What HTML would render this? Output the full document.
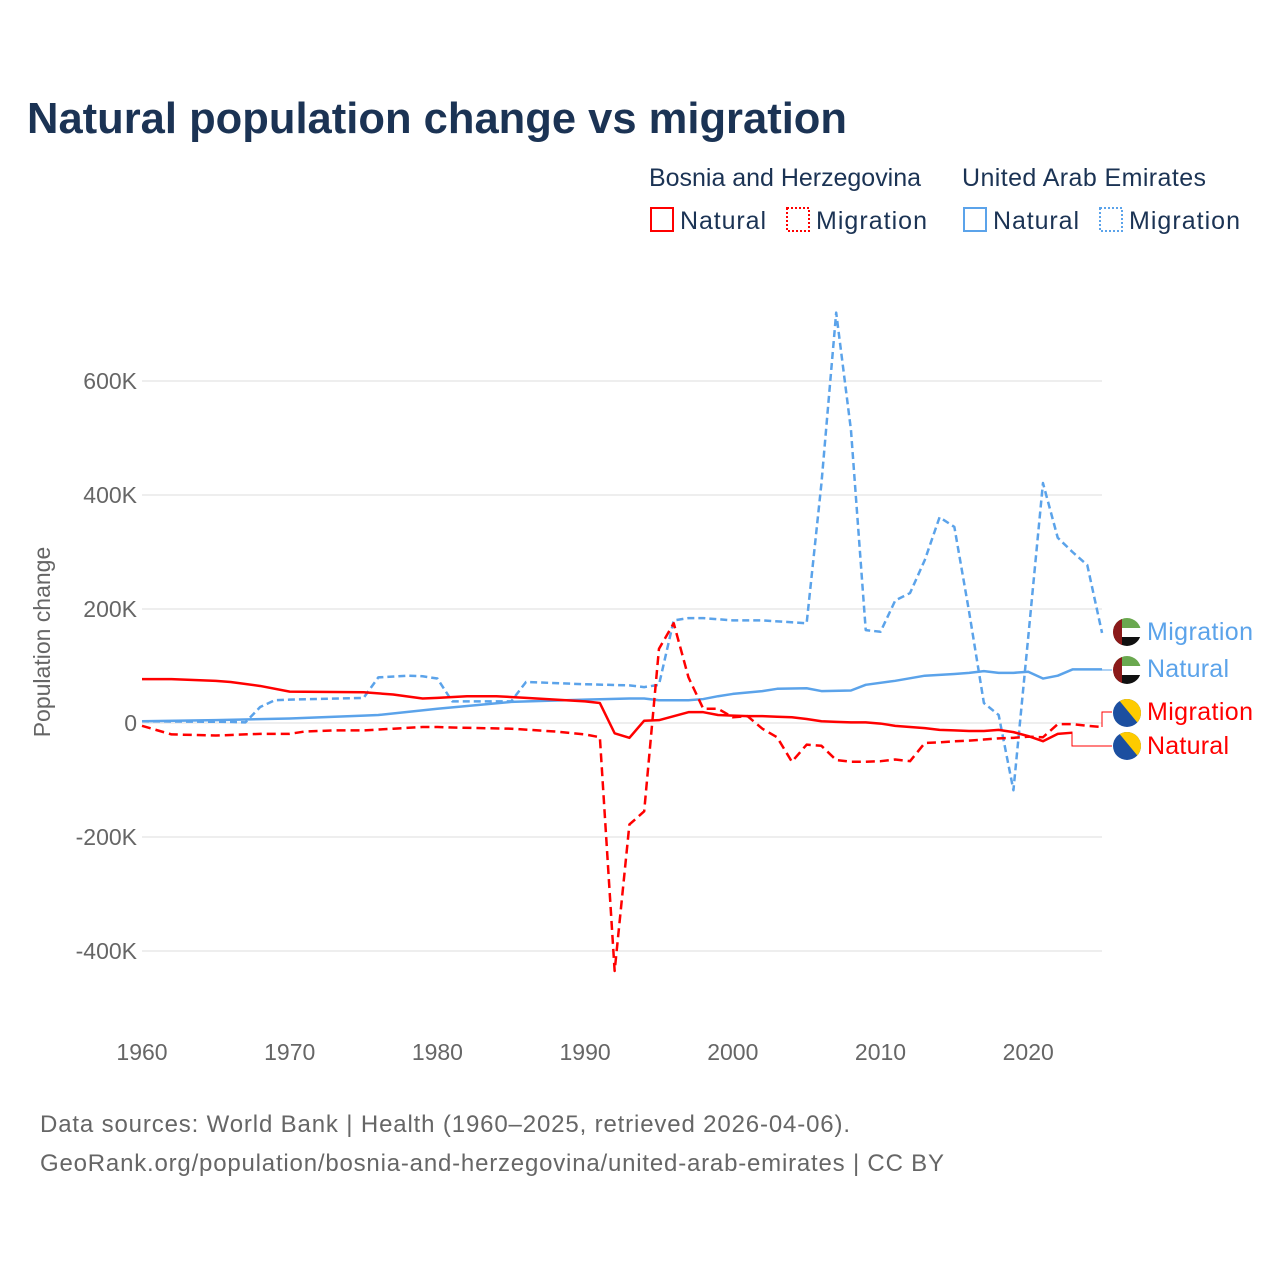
<!DOCTYPE html>
<html><head><meta charset="utf-8"><style>
body{margin:0;background:#fff;font-family:"Liberation Sans",sans-serif}
svg text{font-family:"Liberation Sans",sans-serif}
</style></head><body>
<svg width="1280" height="1280" viewBox="0 0 1280 1280">
<text x="27" y="133" font-size="44" font-weight="bold" fill="#1b3354" textLength="820" lengthAdjust="spacingAndGlyphs">Natural population change vs migration</text>
<g fill="#1b3354" font-size="25">
<text x="649" y="186" textLength="272">Bosnia and Herzegovina</text>
<text x="962" y="186" textLength="244">United Arab Emirates</text>
<g><rect x="651" y="208" width="22" height="23" fill="none" stroke="#f00" stroke-width="2"/><text x="680" y="229" textLength="86">Natural</text></g>
<g><rect x="787" y="208" width="22" height="23" fill="none" stroke="#f00" stroke-width="2" stroke-dasharray="2,2"/><text x="816" y="229" textLength="111">Migration</text></g>
<g><rect x="964" y="208" width="22" height="23" fill="none" stroke="#5ba3ea" stroke-width="2"/><text x="993" y="229" textLength="86">Natural</text></g>
<g><rect x="1100" y="208" width="22" height="23" fill="none" stroke="#5ba3ea" stroke-width="2" stroke-dasharray="2,2"/><text x="1129" y="229" textLength="111">Migration</text></g>
</g>
<g id="grid"></g>
<g id="yticks" font-size="23" fill="#666" text-anchor="end"></g>
<g id="xticks" font-size="23" fill="#666" text-anchor="middle"></g>
<text transform="translate(50,642) rotate(-90)" font-size="23" fill="#666" text-anchor="middle">Population change</text>
<g id="series"></g>
<g font-size="25">
<line x1="1102" y1="670" x2="1112" y2="670" stroke="#5ba3ea" stroke-width="1"/>
<polyline points="1102,727 1102,712 1112,712" fill="none" stroke="#f00" stroke-width="1"/>
<polyline points="1072,734 1072,746 1112,746" fill="none" stroke="#f00" stroke-width="1"/>
<g><clipPath id="c1"><circle cx="1127" cy="632" r="14"/></clipPath><g clip-path="url(#c1)"><rect x="1113" y="618" width="28" height="10" fill="#6aa84f"/><rect x="1113" y="628" width="28" height="9" fill="#fff"/><rect x="1113" y="637" width="28" height="10" fill="#111"/><rect x="1113" y="618" width="9" height="28" fill="#8b1a1a"/></g></g>
<g><clipPath id="c2"><circle cx="1127" cy="670" r="14"/></clipPath><g clip-path="url(#c2)"><rect x="1113" y="656" width="28" height="10" fill="#6aa84f"/><rect x="1113" y="666" width="28" height="9" fill="#fff"/><rect x="1113" y="675" width="28" height="10" fill="#111"/><rect x="1113" y="656" width="9" height="28" fill="#8b1a1a"/></g></g>
<g><clipPath id="c3"><circle cx="1127" cy="713" r="14"/></clipPath><g clip-path="url(#c3)"><rect x="1113" y="699" width="28" height="28" fill="#1c4fa0"/><polygon points="1118,699 1141,699 1141,727" fill="#fecb00"/></g></g>
<g><clipPath id="c4"><circle cx="1127" cy="746" r="14"/></clipPath><g clip-path="url(#c4)"><rect x="1113" y="732" width="28" height="28" fill="#1c4fa0"/><polygon points="1118,732 1141,732 1141,760" fill="#fecb00"/></g></g>
<text x="1147" y="640" fill="#5ba3ea" textLength="106">Migration</text>
<text x="1147" y="677" fill="#5ba3ea" textLength="82">Natural</text>
<text x="1147" y="720" fill="#f00" textLength="106">Migration</text>
<text x="1147" y="754" fill="#f00" textLength="82">Natural</text>
</g>
<g font-size="24" fill="#666">
<text x="40" y="1132" textLength="810">Data sources: World Bank | Health (1960–2025, retrieved 2026-04-06).</text>
<text x="40" y="1171" textLength="904">GeoRank.org/population/bosnia-and-herzegovina/united-arab-emirates | CC BY</text>
</g>
</svg>
<script>
const yTicks=[600,400,200,0,-200,-400];
const yTickLabels=["600K","400K","200K","0","-200K","-400K"];
const xTicks=[1960,1970,1980,1990,2000,2010,2020];
const bihNaturalYears=[1960,1962,1965,1966,1968,1970,1975,1977,1979,1980,1982,1984,1986,1988,1990,1991,1992,1993,1994,1995,1996,1997,1998,1999,2000,2001,2002,2003,2004,2005,2006,2007,2008,2009,2010,2011,2012,2013,2014,2015,2016,2017,2018,2019,2020,2021,2022,2023];
const bihNatural=[77,77,74,72,65,55,54,50,43,44,47,47,44,41,38,35,-18,-26,4,5,12,19,19,14,13,12,12,11,10,7,3,2,1,1,-1,-5,-7,-9,-12,-13,-14,-14,-12,-16,-23,-32,-19,-17];
const bihMigrationYears=[1960,1962,1965,1968,1970,1971,1973,1975,1977,1979,1980,1981,1985,1988,1990,1991,1992,1993,1994,1995,1996,1997,1998,1999,2000,2001,2002,2003,2004,2005,2006,2007,2008,2009,2010,2011,2012,2013,2014,2015,2016,2017,2018,2019,2020,2021,2022,2023,2024,2025];
const bihMigration=[-5,-20,-22,-19,-19,-15,-13,-13,-10,-7,-7,-8,-10,-15,-20,-25,-435,-178,-155,130,175,80,25,25,10,12,-10,-25,-68,-38,-40,-65,-68,-68,-67,-64,-67,-35,-34,-32,-31,-29,-27,-26,-24,-25,-2,-2,-5,-7];
const uaeNaturalYears=[1960,1965,1970,1975,1976,1980,1985,1990,1993,1994,1995,1997,1998,1999,2000,2002,2003,2005,2006,2008,2009,2011,2013,2015,2016,2017,2018,2019,2020,2021,2022,2023,2024,2025];
const uaeNatural=[3,5,8,13,14,25,37,41,43,43,40,40,42,47,51,56,60,61,56,57,67,74,83,86,88,91,88,88,90,78,83,94,94,94];
const uaeMigrationYears=[1960,1966,1967,1968,1969,1970,1975,1976,1978,1979,1980,1981,1985,1986,1990,1993,1994,1995,1996,1997,1998,2000,2002,2005,2006,2007,2008,2009,2010,2011,2012,2013,2014,2015,2016,2017,2018,2019,2020,2021,2022,2023,2024,2025];
const uaeMigration=[3,2,1,28,40,41,44,80,83,82,78,38,38,72,68,66,63,67,180,184,184,180,180,175,420,720,514,163,160,215,228,286,361,344,195,35,14,-118,150,421,325,300,277,158];

const NS="http://www.w3.org/2000/svg";
function X(yr){return 142+(yr-1960)*14.77;}
function Y(v){return 723-v*0.57;}
function mk(t,a,p){const e=document.createElementNS(NS,t);for(const k in a)e.setAttribute(k,a[k]);p.appendChild(e);return e;}
const grid=document.getElementById('grid'),yt=document.getElementById('yticks'),xt=document.getElementById('xticks'),ser=document.getElementById('series');
yTicks.forEach((v,i)=>{
 const l=mk('line',{x1:142,x2:1102,y1:Y(v),y2:Y(v),stroke:'#e8e8e8','stroke-width':1.5},grid);
 
 
 const t=mk('text',{x:137,y:Y(v)+8},yt);t.textContent=yTickLabels[i];
 
 
});
xTicks.forEach(v=>{
 const t=mk('text',{x:X(v),y:1060},xt);t.textContent=v;
 
 
});
function line(ys,vs,color,dash,name){
 const p=mk('polyline',{points:ys.map((y,i)=>X(y)+','+Y(vs[i])).join(' '),fill:'none',stroke:color,'stroke-width':2.5,'stroke-linejoin':'round'},ser);
 if(dash)p.setAttribute('stroke-dasharray',dash);
 
 
}
line(uaeNaturalYears,uaeNatural,'#5ba3ea',null,'line-uae-natural');
line(uaeMigrationYears,uaeMigration,'#5ba3ea','7,4','line-uae-migration');
line(bihNaturalYears,bihNatural,'#f00',null,'line-bih-natural');
line(bihMigrationYears,bihMigration,'#f00','9,5','line-bih-migration');
</script>
</body></html>
